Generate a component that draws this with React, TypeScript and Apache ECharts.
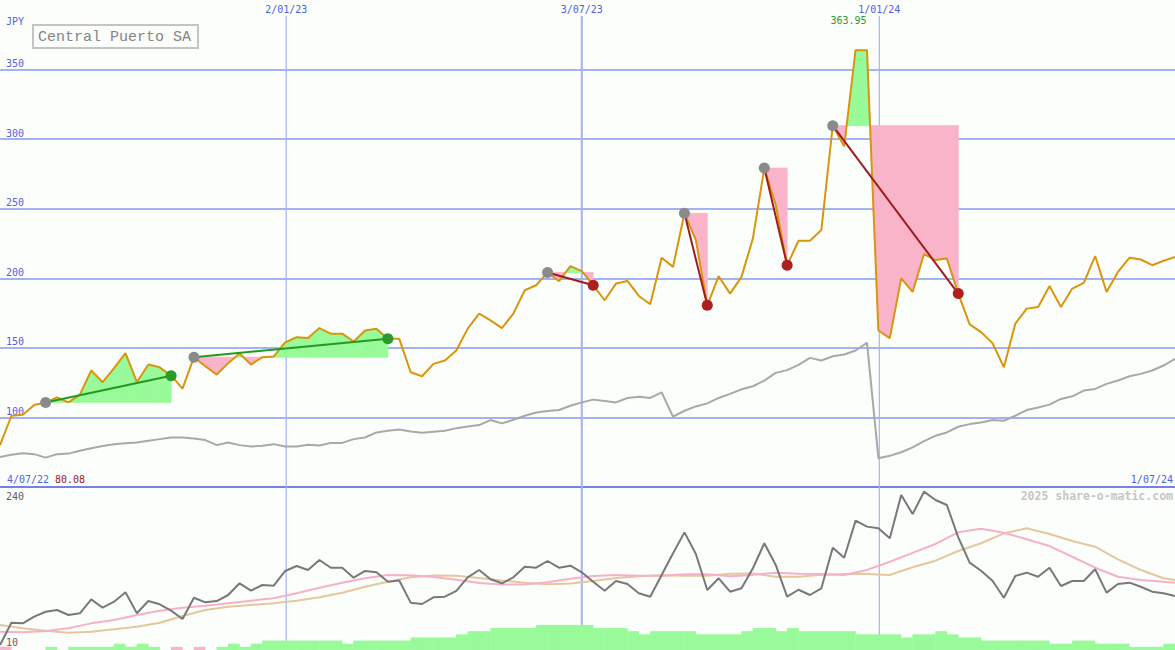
import React, { useEffect, useRef } from "react";
import * as echarts from "echarts";

// ---------- DATA ----------
const title = "Central Puerto SA";
const currency = "JPY";
const watermark = "2025 share-o-matic.com";

// weekly closing prices (index = week number from start)
const prices = [
  80.08, 101.2, 102, 109, 110.8, 114.4, 110.8, 116.4, 133.7, 125.3,
  135.5, 146.2, 125.3, 138, 136, 130, 120.7, 143.3, 136.8, 130.8,
  139, 146, 138, 143.3, 143.8, 154, 157.7, 157, 164.2, 160.2,
  160.2, 154.6, 162.5, 163.8, 156.5, 156.5, 132.5, 129.6, 138.5, 140.9,
  148.1, 163.8, 174.6, 169.8, 164.2, 174.6, 191.4, 195, 204.2, 197.9,
  208.7, 205.1, 195, 184.2, 196.2, 198.1, 187.3, 181.3, 214.7, 208.2,
  246.7, 227.5, 180.6, 201.5, 189, 201, 228.7, 279.2, 252.7, 209.4,
  227, 227, 234.7, 309.7, 294.8, 363.95, 363.95, 162.5, 157, 199.9,
  190.2, 217.4, 213.1, 214.3, 189, 166.9, 161.3, 153.4, 136.1, 167.4,
  178.2, 179.4, 194.5, 179.4, 192.6, 196.7, 216, 190.2, 204.6, 214.7,
  213.5, 209.4, 212.6, 215.4,
];

// grey comparison line in the price panel
const benchmark = [
  71.6, 73.1, 74.3, 73.6, 71.1, 73.6, 74, 76, 77.9, 79.4,
  80.8, 81.5, 82, 83.2, 84.4, 85.6, 85.6, 84.9, 83.7, 80.1,
  82, 80.1, 79.1, 79.6, 80.8, 79.1, 79.1, 80.3, 79.8, 81.7,
  81.7, 84.4, 85.6, 89.2, 90.4, 91.3, 89.9, 89, 89.7, 90.4,
  92.3, 93.5, 94.5, 98.1, 95.7, 98.3, 101.2, 103.6, 104.6, 105.3,
  108.4, 110.8, 112.8, 111.8, 110.8, 114, 114.9, 114, 118, 100.5,
  104.8, 107.9, 110.1, 114, 116.9, 120.2, 122.4, 126.5, 132, 134,
  137.8, 142.8, 140.9, 144, 145.2, 148.1, 153.7, 70.7, 72.4, 75,
  78.5, 83, 86.8, 89.2, 93.3, 95.2, 96.4, 98.1, 97.6, 101.2,
  105.3, 107.2, 109.2, 113.3, 115.2, 119.3, 120.5, 124.1, 126.5, 129.6,
  131.3, 133.7, 137.3, 142.1,
];

// lower panel indicator
const oscillator = [
  17, 48.5, 47.6, 57, 64, 66.4, 59.4, 61.8, 81.5, 69.7,
  78.2, 91.4, 61.8, 79.1, 74.5, 65.5, 53.7, 83.8, 77.3, 79.1,
  87.6, 104.1, 93.7, 101.7, 100.7, 121.5, 128.5, 122.9, 137, 126.1,
  126.1, 112, 121.5, 119.6, 106.4, 108, 76.8, 74.9, 84.4, 85.2,
  93.3, 112.6, 122.9, 109.8, 104.1, 112.6, 127.5, 126.1, 135.6, 126.1,
  128.9, 119.6, 106.4, 93.7, 107.4, 103.1, 90, 85.2, 115.8, 146.4,
  176, 145.5, 94.7, 111.2, 92.3, 97.1, 125.3, 160.6, 130, 85.2,
  95, 87.6, 97.1, 154.3, 140.2, 192.5, 184.1, 181.7, 167.6, 228.7,
  201.9, 233.4, 221.7, 214.6, 169, 133.2, 121.9, 107.8, 83.8, 114.4,
  119.1, 113.4, 126.1, 100.3, 107.4, 107.4, 123.9, 90.9, 103.1, 105,
  99.3, 92.3, 90, 86.2,
];

// moving averages of the indicator (sampled weeks)
const maWeeks = [
  0, 2, 4, 6, 8, 10, 12, 14, 16, 18, 20, 22, 24, 26, 28, 30, 32, 34, 36, 38,
  40, 42, 44, 46, 48, 50, 52, 54, 56, 58, 60, 62, 64, 66, 68, 70, 72, 74, 76, 78,
  80, 82, 84, 86, 88, 90, 92, 94, 96, 98, 100, 102, 103,
];
const maFast = [
  35.8, 35, 36.8, 40.6, 47.6, 52.3, 59.4, 65.5, 69.7, 72.5,
  75.9, 79.6, 82.9, 90, 97.9, 105, 111.2, 115.8, 115.5, 113,
  109, 104.5, 102.3, 102.3, 105.5, 110.5, 114.5, 115.8, 114.6, 114.6,
  117, 117, 114, 116, 119.1, 117.5, 117.2, 115.8, 123, 134.6,
  147, 159.6, 176, 181.2, 175.5, 166.2, 156.7, 141.6, 126.1, 113.4,
  108.8, 106.4, 105,
];
const maSlow = [
  45.3, 40.6, 37.2, 34.4, 35.8, 39.2, 42.9, 48.5, 58, 66.4,
  71.1, 73.5, 75.9, 79.6, 84.4, 90.9, 99.3, 106.4, 112.8, 115.1,
  114.6, 111.6, 108.1, 104.8, 102.9, 103.9, 107.4, 111.6, 114.2, 115.4,
  114.6, 114.6, 117.5, 118, 113.4, 113.4, 116, 117.2, 117.2, 115.8,
  126.7, 136, 149.7, 160.6, 174.6, 181.7, 173.7, 163.8, 155.8, 138,
  122.9, 111.2, 108.8,
];

// volume-like bars (negative = pink)
const volume = [
  -1, 0, 0, 0, 1, 0, 1, 1, 1, 1,
  2, 1, 2, 1, 0, -1, 0, -1, 0, 1,
  2, 1, 2, 3, 3, 3, 3, 3, 3, 3,
  2, 3, 3, 3, 3, 3, 4, 4, 4, 4,
  5, 6, 6, 7, 7, 7, 7, 8, 8, 8,
  8, 8, 7, 7, 7, 6, 5, 6, 6, 6,
  6, 5, 5, 5, 5, 6, 7, 7, 6, 7,
  6, 6, 6, 6, 6, 5, 5, 5, 5, 4,
  5, 5, 6, 5, 4, 4, 3, 3, 3, 3,
  3, 3, 2, 2, 3, 3, 2, 2, 2, 1,
  1, 1, 2, 2,
];

// trades: [entry week, exit week]
const trades = [
  [4, 15],
  [17, 34],
  [48, 52],
  [60, 62],
  [67, 69],
  [73, 84],
];

const dateTickPos = [25.09, 51.0, 77.08];
const dateTickLabels = ["2/01/23", "3/07/23", "1/01/24"];
const startDateLabel = "4/07/22";
const endDateLabel = "1/07/24";
const lowerAxisLabels = ["240", "10"];

// ---------- STYLE ----------
const MONO = "'DejaVu Sans Mono', monospace";
const BLUE_TEXT = "#5060e6";
const GRID_BLUE = "#a4b2f2";
const SEP_BLUE = "#7282e6";
const GREEN_FILL = "#98fa98";
const PINK_FILL = "#fab4ca";
const DATE_LINE_WIDTHS = [1.2, 2, 1.2];

type Poly = { pts: number[][]; up: boolean };

function buildFills(): Poly[] {
  const out: Poly[] = [];
  trades.forEach(([a, b]) => {
    const L = prices[a];
    for (let i = a; i < b; i++) {
      const p0 = prices[i] - L;
      const p1 = prices[i + 1] - L;
      if (p0 === 0 && p1 === 0) continue;
      if (p0 >= 0 && p1 >= 0) {
        out.push({ pts: [[i, L], [i, prices[i]], [i + 1, prices[i + 1]], [i + 1, L]], up: true });
      } else if (p0 <= 0 && p1 <= 0) {
        out.push({ pts: [[i, L], [i, prices[i]], [i + 1, prices[i + 1]], [i + 1, L]], up: false });
      } else {
        const t = p0 / (p0 - p1);
        const xc = i + t;
        out.push({ pts: [[i, L], [i, prices[i]], [xc, L]], up: p0 > 0 });
        out.push({ pts: [[xc, L], [i + 1, prices[i + 1]], [i + 1, L]], up: p1 > 0 });
      }
    }
  });
  return out;
}

export default function App() {
  const ref = useRef<HTMLDivElement>(null);

  useEffect(() => {
    const el = ref.current;
    if (!el) return;
    const chart = echarts.init(el, null, { renderer: "svg" });

    const fills = buildFills();
    const maxPrice = Math.max(...prices);
    const maxIdx = prices.indexOf(maxPrice);

    const option: any = {
      animation: false,
      backgroundColor: "#fcfefc",
      grid: [
        { left: 0, right: 0, top: 0, height: 487 },
        { left: 0, right: 0, top: 487, height: 163 },
      ],
      xAxis: [
        {
          type: "value",
          gridIndex: 0,
          min: 0,
          max: 103,
          axisLabel: { show: false },
          axisTick: { show: false },
          splitLine: { show: false },
          axisLine: { show: true, onZero: false, lineStyle: { color: SEP_BLUE, width: 2 } },
        },
        {
          type: "value",
          gridIndex: 1,
          min: 0,
          max: 103,
          show: false,
        },
      ],
      yAxis: [
        {
          type: "value",
          gridIndex: 0,
          min: 50,
          max: 400,
          interval: 50,
          axisLine: { show: false },
          axisTick: { show: false },
          splitLine: {
            show: true,
            showMinLine: false,
            showMaxLine: false,
            lineStyle: { color: GRID_BLUE, width: 2 },
          },
          axisLabel: {
            inside: true,
            margin: 6,
            verticalAlign: "bottom",
            lineHeight: 12,
            color: BLUE_TEXT,
            fontFamily: MONO,
            fontSize: 10,
            showMinLabel: false,
            showMaxLabel: false,
          },
        },
        { type: "value", gridIndex: 1, min: 10, max: 240, show: false },
        { type: "value", gridIndex: 1, min: 0, max: 52, show: false },
      ],
      graphic: [
        {
          type: "text",
          x: 6,
          y: 21,
          z: 50,
          style: { text: currency, fill: BLUE_TEXT, font: `10px ${MONO}`, verticalAlign: "middle", textVerticalAlign: "middle" },
        },
        {
          type: "rect",
          z: 50,
          shape: { x: 33, y: 25, width: 165, height: 23 },
          style: { fill: "#fcfefc", stroke: "#c4c4c4", lineWidth: 2 },
        },
        {
          type: "text",
          x: 38,
          y: 37,
          z: 51,
          style: {
            text: title,
            fill: "#858585",
            font: `15px 'Liberation Mono', monospace`,
            verticalAlign: "middle",
            textVerticalAlign: "middle",
          },
        },
        {
          type: "text",
          x: 7,
          y: 479,
          z: 50,
          style: { text: startDateLabel, fill: BLUE_TEXT, font: `10px ${MONO}`, verticalAlign: "middle", textVerticalAlign: "middle" },
        },
        {
          type: "text",
          x: 55,
          y: 479,
          z: 50,
          style: { text: prices[0].toFixed(2), fill: "#a02020", font: `10px ${MONO}`, verticalAlign: "middle", textVerticalAlign: "middle" },
        },
        {
          type: "text",
          x: 1173,
          y: 479,
          z: 50,
          style: {
            text: endDateLabel,
            fill: BLUE_TEXT,
            font: `10px ${MONO}`,
            align: "right",
            textAlign: "right",
            verticalAlign: "middle",
            textVerticalAlign: "middle",
          },
        },
        {
          type: "text",
          x: 1173,
          y: 496,
          z: 50,
          style: {
            text: watermark,
            fill: "#c6c6c6",
            font: `bold 11.5px ${MONO}`,
            align: "right",
            textAlign: "right",
            verticalAlign: "middle",
            textVerticalAlign: "middle",
          },
        },
        {
          type: "text",
          x: 6,
          y: 496,
          z: 50,
          style: { text: lowerAxisLabels[0], fill: "#606060", font: `10px ${MONO}`, verticalAlign: "middle", textVerticalAlign: "middle" },
        },
        {
          type: "text",
          x: 6,
          y: 642,
          z: 50,
          style: { text: lowerAxisLabels[1], fill: "#606060", font: `10px ${MONO}`, verticalAlign: "middle", textVerticalAlign: "middle" },
        },
      ],
      series: [
        // vertical date lines + top labels
        {
          type: "custom",
          xAxisIndex: 0,
          yAxisIndex: 0,
          clip: false,
          silent: true,
          z: 1,
          data: dateTickPos.map((p, i) => [p, 50, i]),
          encode: { x: 0, y: 1 },
          renderItem: (params: any, api: any) => {
            const i = params.dataIndex;
            const x = api.coord([api.value(0), 50])[0];
            return {
              type: "group",
              children: [
                {
                  type: "line",
                  shape: { x1: x, y1: 16, x2: x, y2: 650 },
                  style: { stroke: GRID_BLUE, lineWidth: DATE_LINE_WIDTHS[i] },
                },
                {
                  type: "text",
                  x: x,
                  y: 9,
                  style: {
                    text: dateTickLabels[i],
                    fill: BLUE_TEXT,
                    font: `10px ${MONO}`,
                    align: "center",
                    textAlign: "center",
                    verticalAlign: "middle",
                    textVerticalAlign: "middle",
                  },
                },
              ],
            };
          },
        },
        // trade fills
        {
          type: "custom",
          xAxisIndex: 0,
          yAxisIndex: 0,
          silent: true,
          z: 2,
          data: fills.map((f) => f.pts[0]),
          encode: { x: 0, y: 1 },
          renderItem: (params: any, api: any) => {
            const f = fills[params.dataIndex];
            const c = f.up ? GREEN_FILL : PINK_FILL;
            return {
              type: "polygon",
              shape: { points: f.pts.map((p) => api.coord(p)) },
              style: { fill: c, stroke: c, lineWidth: 0.8 },
            };
          },
        },
        // benchmark grey
        {
          type: "line",
          xAxisIndex: 0,
          yAxisIndex: 0,
          z: 3,
          symbol: "none",
          silent: true,
          data: benchmark.map((v, i) => [i, v]),
          lineStyle: { color: "#a8a8a8", width: 2 },
        },
        // price
        {
          type: "line",
          xAxisIndex: 0,
          yAxisIndex: 0,
          z: 4,
          symbol: "none",
          silent: true,
          data: prices.map((v, i) => [i, v]),
          lineStyle: { color: "#d9960c", width: 2 },
        },
        // trade lines and dots
        {
          type: "custom",
          xAxisIndex: 0,
          yAxisIndex: 0,
          silent: true,
          z: 5,
          data: trades.map(([a, b]) => [a, prices[a], b, prices[b]]),
          encode: { x: [0, 2], y: [1, 3] },
          renderItem: (params: any, api: any) => {
            const a = api.coord([api.value(0), api.value(1)]);
            const b = api.coord([api.value(2), api.value(3)]);
            const win = api.value(3) > api.value(1);
            return {
              type: "group",
              children: [
                {
                  type: "line",
                  shape: { x1: a[0], y1: a[1], x2: b[0], y2: b[1] },
                  style: { stroke: win ? "#229a22" : "#a01c1c", lineWidth: 2 },
                },
                { type: "circle", shape: { cx: a[0], cy: a[1], r: 5.5 }, style: { fill: "#8a8a8a" } },
                {
                  type: "circle",
                  shape: { cx: b[0], cy: b[1], r: 5.5 },
                  style: { fill: win ? "#2a9a2a" : "#ae2020" },
                },
              ],
            };
          },
        },
        // max price label
        {
          type: "custom",
          xAxisIndex: 0,
          yAxisIndex: 0,
          clip: false,
          silent: true,
          z: 6,
          data: [[maxIdx, maxPrice]],
          encode: { x: 0, y: 1 },
          renderItem: (params: any, api: any) => {
            const p = api.coord([api.value(0), api.value(1)]);
            return {
              type: "text",
              x: p[0] - 7,
              y: p[1] - 29.5,
              style: {
                text: maxPrice.toFixed(2),
                fill: "#2a9a2a",
                font: `10px ${MONO}`,
                align: "center",
                textAlign: "center",
                verticalAlign: "middle",
                textVerticalAlign: "middle",
              },
            };
          },
        },
        // volume bars
        {
          type: "bar",
          xAxisIndex: 1,
          yAxisIndex: 2,
          silent: true,
          z: 3,
          barWidth: 11.8,
          data: volume.map((v, i) => ({
            value: [i + 0.5, Math.abs(v)],
            itemStyle: { color: v < 0 ? PINK_FILL : GREEN_FILL },
          })),
        },
        // slow MA
        {
          type: "line",
          xAxisIndex: 1,
          yAxisIndex: 1,
          z: 4,
          symbol: "none",
          silent: true,
          data: maWeeks.map((w, i) => [w, maSlow[i]]),
          lineStyle: { color: "#e2c89c", width: 2 },
        },
        // fast MA
        {
          type: "line",
          xAxisIndex: 1,
          yAxisIndex: 1,
          z: 4,
          symbol: "none",
          silent: true,
          data: maWeeks.map((w, i) => [w, maFast[i]]),
          lineStyle: { color: "#f8b0c8", width: 2 },
        },
        // oscillator
        {
          type: "line",
          xAxisIndex: 1,
          yAxisIndex: 1,
          z: 5,
          symbol: "none",
          silent: true,
          data: oscillator.map((v, i) => [i, v]),
          lineStyle: { color: "#787878", width: 2 },
        },
      ],
    };

    chart.setOption(option);
    return () => chart.dispose();
  }, []);

  return (
    <div
      ref={ref}
      style={{ position: "absolute", left: 0, top: 0, width: 1175, height: 650 }}
    />
  );
}
